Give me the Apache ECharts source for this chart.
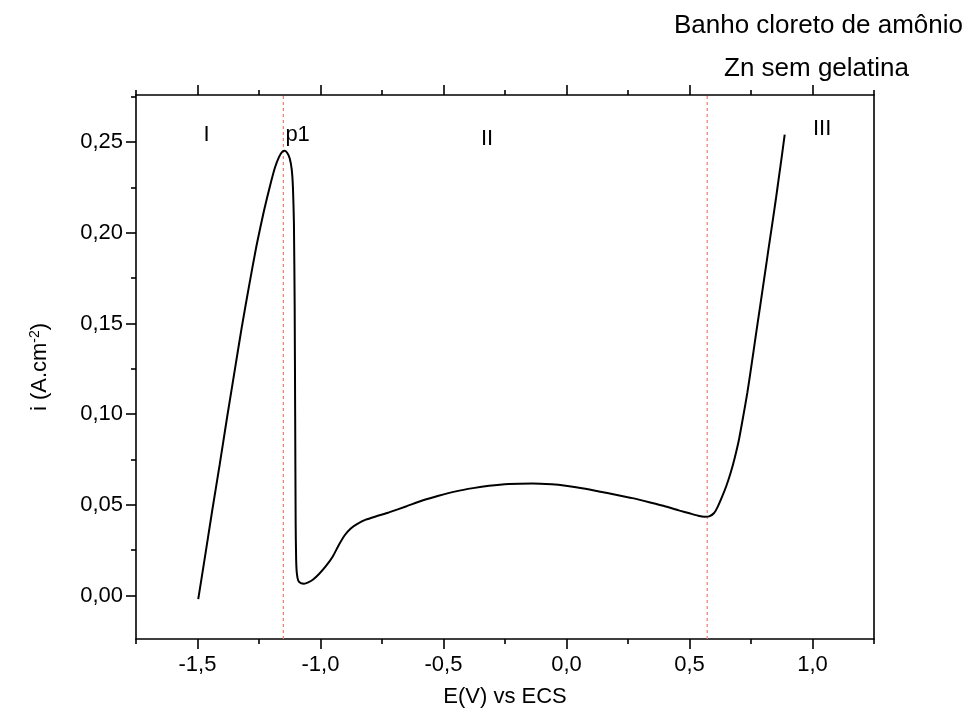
<!DOCTYPE html>
<html>
<head>
<meta charset="utf-8">
<script src="https://cdn.jsdelivr.net/npm/echarts@6/dist/echarts.min.js"></script>
<style>
  html, body { margin: 0; padding: 0; background: #fff; }
  #chart { width: 971px; height: 720px; }
</style>
</head>
<body>
<div id="chart"></div>
<script>
// Potential E (V vs ECS)
const potential = [
  -1.497, -1.470, -1.440, -1.410, -1.380, -1.350, -1.320, -1.290, -1.260, -1.230,
  -1.205, -1.185, -1.168, -1.155, -1.145, -1.135, -1.125, -1.117, -1.112, -1.108,
  -1.105, -1.103, -1.101, -1.099, -1.096, -1.090, -1.080, -1.067, -1.050, -1.030,
  -1.005, -0.979, -0.950, -0.925, -0.900, -0.877, -0.850, -0.816, -0.770, -0.722,
  -0.650, -0.586, -0.520, -0.450, -0.380, -0.315, -0.234, -0.139, -0.060, -0.003,
  0.070, 0.132, 0.200, 0.268, 0.340, 0.403, 0.460, 0.500, 0.535, 0.560,
  0.580, 0.600, 0.615, 0.633, 0.650, 0.667, 0.684, 0.701, 0.718, 0.735,
  0.752, 0.769, 0.786, 0.803, 0.820, 0.837, 0.851, 0.864, 0.876, 0.887
];
// Current density i (A.cm^-2)
const current = [
  -0.0020, 0.0210, 0.0470, 0.0720, 0.0980, 0.1230, 0.1480, 0.1710, 0.1930, 0.2120,
  0.2260, 0.2360, 0.2420, 0.2448, 0.2452, 0.2440, 0.2410, 0.2350, 0.2250, 0.2050,
  0.1600, 0.1000, 0.0400, 0.0200, 0.0120, 0.0080, 0.0068, 0.0065, 0.0072, 0.0088,
  0.0120, 0.0160, 0.0215, 0.0280, 0.0335, 0.0370, 0.0395, 0.0418, 0.0438, 0.0458,
  0.0492, 0.0524, 0.0550, 0.0574, 0.0592, 0.0605, 0.0615, 0.0618, 0.0613, 0.0605,
  0.0590, 0.0574, 0.0556, 0.0537, 0.0513, 0.0491, 0.0468, 0.0453, 0.0440, 0.0434,
  0.0436, 0.0455, 0.0490, 0.0546, 0.0605, 0.0675, 0.0760, 0.0859, 0.0985, 0.1117,
  0.1270, 0.1429, 0.1585, 0.1742, 0.1900, 0.2055, 0.2185, 0.2312, 0.2430, 0.2542
];

// Axis ticks
const xMajorTicks = [-1.5, -1.0, -0.5, 0.0, 0.5, 1.0];
const xMinorTicks = [-1.75, -1.25, -0.75, -0.25, 0.25, 0.75, 1.25];
const yMajorTicks = [0.00, 0.05, 0.10, 0.15, 0.20, 0.25];
const yMinorTicks = [-0.025, 0.025, 0.075, 0.125, 0.175, 0.225, 0.275];

// Boundaries between regions (dashed guide lines)
const boundaries = [-1.151, 0.572];

// Region labels
const regionLabels = [
  { text: 'I',   E: -1.463, i: 0.2540 },
  { text: 'p1',  E: -1.093, i: 0.2540 },
  { text: 'II',  E: -0.323, i: 0.2520 },
  { text: 'III', E: 1.039,  i: 0.2575 }
];

const titleLines = ['Banho cloreto de amônio', 'Zn sem gelatina'];

const X_MIN = -1.75, X_MAX = 1.25;
const Y_MIN = -0.024, Y_MAX = 0.276;
const FONT = 'Liberation Sans, Arial, sans-serif';
const axisColor = '#000';
const LABEL_SIZE = 22;

const comma = (v, d) => v.toFixed(d).replace('.', ',');

function xAxisDef(position, ticks, len, withLabels, withLine) {
  return {
    type: 'value', position, min: X_MIN, max: X_MAX,
    axisLine: { show: withLine, onZero: false, lineStyle: { color: axisColor, width: 1.6 } },
    axisTick: { show: true, customValues: ticks, length: len, inside: false,
                lineStyle: { color: axisColor, width: 1.6 } },
    axisLabel: withLabels
      ? { show: true, customValues: ticks, formatter: v => comma(v, 1),
          fontFamily: FONT, fontSize: LABEL_SIZE, color: '#000', margin: 15 }
      : { show: false },
    splitLine: { show: false }
  };
}
function yAxisDef(position, ticks, len, withLabels, withLine, showTicks) {
  return {
    type: 'value', position, min: Y_MIN, max: Y_MAX,
    axisLine: { show: withLine, onZero: false, lineStyle: { color: axisColor, width: 1.6 } },
    axisTick: { show: showTicks, customValues: ticks, length: len, inside: false,
                lineStyle: { color: axisColor, width: 1.6 } },
    axisLabel: withLabels
      ? { show: true, customValues: ticks, formatter: v => comma(v, 2),
          fontFamily: FONT, fontSize: LABEL_SIZE, color: '#000', margin: 13 }
      : { show: false },
    splitLine: { show: false }
  };
}

const xAxes = [
  xAxisDef('bottom', xMajorTicks, 10, true, true),
  xAxisDef('bottom', xMinorTicks, 5, false, false),
  xAxisDef('top', xMajorTicks, 10, false, true),
  xAxisDef('top', xMinorTicks, 5, false, false)
];
xAxes[0].name = 'E(V) vs ECS';
xAxes[0].nameLocation = 'middle';
xAxes[0].nameGap = 47;
xAxes[0].nameTextStyle = { fontFamily: FONT, fontSize: LABEL_SIZE, color: '#000' };

const yAxes = [
  yAxisDef('left', yMajorTicks, 10, true, true, true),
  yAxisDef('left', yMinorTicks, 5, false, false, true),
  yAxisDef('right', yMajorTicks, 10, false, true, false)
];
yAxes[0].name = '{n|i (A.cm}{s|-2}{n|)}';
yAxes[0].nameLocation = 'middle';
yAxes[0].nameRotate = 90;
yAxes[0].nameGap = 84;
yAxes[0].nameTextStyle = {
  rich: {
    n: { fontFamily: FONT, fontSize: LABEL_SIZE, color: '#000' },
    s: { fontFamily: FONT, fontSize: 14, color: '#000', verticalAlign: 'top', padding: [0, 0, 10, 0] }
  }
};

// Each boundary is drawn as its own vertical dashed line series
const boundarySeries = boundaries.map(b => ({
  type: 'line',
  xAxisIndex: 0, yAxisIndex: 0,
  data: [[b, Y_MIN], [b, Y_MAX]],
  showSymbol: false,
  silent: true,
  color: '#ec7f70',
  lineStyle: { color: '#ec7f70', type: [3, 3], width: 1.2 },
  z: 2
}));

const chart = echarts.init(document.getElementById('chart'));
chart.setOption({
  animation: false,
  backgroundColor: '#fff',
  grid: { left: 136, right: 97, top: 95, bottom: 81 },
  xAxis: xAxes,
  yAxis: yAxes,
  series: boundarySeries.concat([
    {
      type: 'line',
      xAxisIndex: 0, yAxisIndex: 0,
      data: potential.map((e, k) => [e, current[k]]),
      showSymbol: false,
      smooth: 0.2,
      color: '#000',
      lineStyle: { color: '#000', width: 2 },
      z: 3
    }
  ])
});

// Header lines and region labels (placed at their data coordinates)
const headerText = [
  { id: 'head0', type: 'text', right: 8, top: 13,
    style: { text: titleLines[0], fontFamily: FONT, fontSize: 26, fill: '#000' } },
  { id: 'head1', type: 'text', left: 724, top: 56,
    style: { text: titleLines[1], fontFamily: FONT, fontSize: 26, fill: '#000' } }
];
const regionText = regionLabels.map((r, k) => {
  const [px, py] = chart.convertToPixel({ xAxisIndex: 0, yAxisIndex: 0 }, [r.E, r.i]);
  return {
    id: 'region' + k, type: 'text', x: px, y: py,
    style: { text: r.text, fontFamily: FONT, fontSize: LABEL_SIZE, fill: '#000',
             align: 'center', verticalAlign: 'middle' }
  };
});
chart.setOption({ graphic: headerText.concat(regionText) });
</script>
</body>
</html>
